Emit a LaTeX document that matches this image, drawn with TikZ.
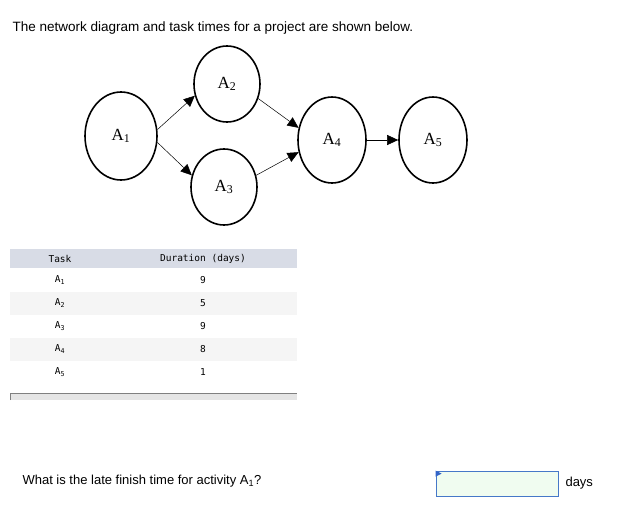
\documentclass[tikz,border=0pt]{standalone}
\usepackage{fontspec}
\setmainfont{Liberation Sans}
\newfontfamily\serifA{Liberation Serif}
\newfontfamily\monoA{DejaVu Sans Mono}
\usetikzlibrary{arrows.meta,shapes.geometric}
\definecolor{hdr}{RGB}{216,220,230}
\definecolor{boxline}{RGB}{70,120,200}
\definecolor{boxfill}{RGB}{240,252,240}
\definecolor{tri}{RGB}{50,100,200}
\begin{document}
\begin{tikzpicture}[x=1pt,y=-1pt,
  ev/.style={draw,line width=1.6pt,ellipse,minimum width=66pt,minimum height=84pt,inner sep=0pt,font=\serifA\fontsize{17}{17}\selectfont},
  con/.style={line width=0.5pt,-{Triangle[length=11pt,width=10pt]}},
  cell/.style={font=\monoA\fontsize{9.5}{10}\selectfont,inner sep=0pt}]
\useasboundingbox (0,0) rectangle (641,531);
\node[anchor=west,font=\fontsize{13.5}{14}\selectfont] (title) at (9,28) {The network diagram and task times for a project are shown below.};
\node[ev,minimum width=72pt,minimum height=88pt] (a1) at (121,136) {A\textsubscript{1}};
\node[ev,minimum height=76pt] (a2) at (227,84) {A\textsubscript{2}};
\node[ev,minimum height=76pt] (a3) at (224,187) {A\textsubscript{3}};
\node[ev,minimum width=68pt,minimum height=86pt] (a4) at (332,140) {A\textsubscript{4}};
\node[ev,minimum width=68pt,minimum height=86pt] (a5) at (433,140) {A\textsubscript{5}};
\draw[con] (a1.10) -- (a2.200);
\draw[con] (a1.-10) -- (a3.160);
\draw[con] (a2.-25) -- (a4.160);
\draw[con] (a3.20) -- (a4.200);
\draw[con] (a4) -- (a5);
% table
\fill[hdr] (10,249) rectangle (297,268);
\fill[gray!8] (10,292) rectangle (297,315);
\fill[gray!8] (10,338) rectangle (297,361);
\node[cell] (th1) at (60,259) {Task};
\node[cell] (th2) at (203,259) {Duration (days)};
\foreach \t/\d/\y in {1/9/280,2/5/303,3/9/326,4/8/349,5/1/372}{
  \node[cell] (t\t) at (60,\y) {A\textsubscript{\t}};
  \node[cell] (d\t) at (203,\y) {\d};
}
\fill[gray!20] (10,393) rectangle (297,400);
\draw[gray,line width=1pt] (10.5,400) -- (10.5,393.5) -- (297,393.5);
% question
\node[anchor=west,font=\fontsize{13}{14}\selectfont] (q) at (19,481) {What is the late finish time for activity A\textsubscript{1}?};
\node[draw=boxline,fill=boxfill,line width=0.8pt,minimum width=122pt,minimum height=25pt,inner sep=0pt] (box) at (497,483.5) {};
\fill[tri] (box.north west) -- ++(6,3) -- ++(-6,3) -- cycle;
\node[anchor=west,font=\fontsize{13}{14}\selectfont] (days) at (562,483) {days};
\end{tikzpicture}
\end{document}
